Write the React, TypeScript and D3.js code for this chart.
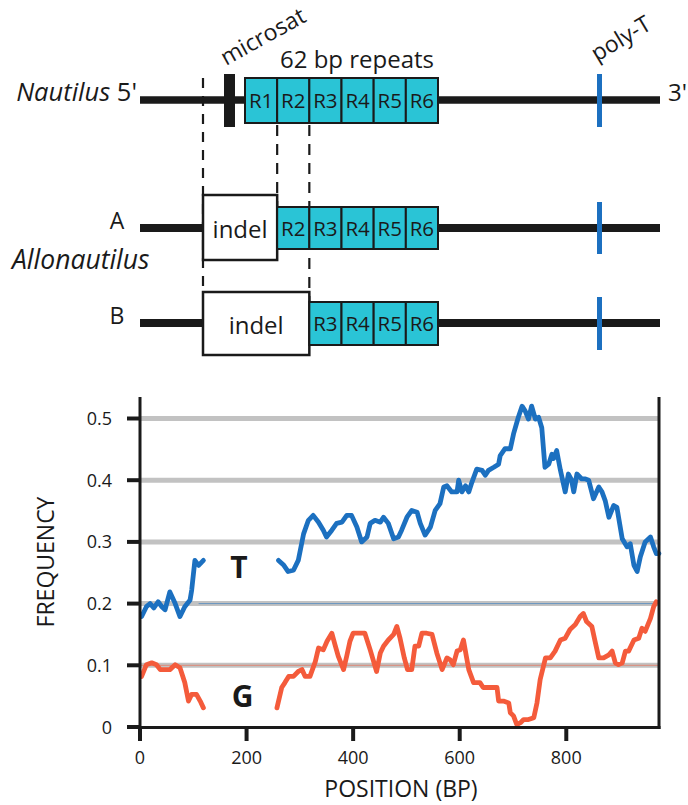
import React from 'react';
import * as d3 from 'd3';

// ---------- diagram data ----------
const nautilusRepeats = ['R1', 'R2', 'R3', 'R4', 'R5', 'R6'];
const alloARepeats = ['R2', 'R3', 'R4', 'R5', 'R6'];
const alloBRepeats = ['R3', 'R4', 'R5', 'R6'];

// ---------- chart data ----------
const xTicks = [0, 200, 400, 600, 800];
const yTicks = [0, 0.1, 0.2, 0.3, 0.4, 0.5];
const gridTicks = [0.1, 0.2, 0.3, 0.4, 0.5];

const tFreqStart: [number, number][] = [
  [3, 0.179], [12, 0.195], [19, 0.2], [26, 0.193], [34, 0.203], [41, 0.195], [47, 0.19],
  [56, 0.219], [66, 0.2], [75, 0.179], [84, 0.195], [94, 0.206], [97, 0.222], [103, 0.27],
  [110, 0.262], [119, 0.27],
];

const tFreqMain: [number, number][] = [
  [260, 0.27], [270, 0.262], [278, 0.252], [288, 0.254], [297, 0.27], [307, 0.313], [316, 0.335],
  [325, 0.343], [335, 0.332], [344, 0.319], [350, 0.308], [360, 0.319], [369, 0.33], [379, 0.332],
  [388, 0.343], [397, 0.343], [407, 0.324], [416, 0.3], [426, 0.308], [432, 0.33], [441, 0.335],
  [451, 0.332], [457, 0.34], [466, 0.33], [476, 0.305], [485, 0.308], [491, 0.319], [501, 0.34],
  [510, 0.351], [520, 0.348], [526, 0.33], [535, 0.311], [545, 0.324], [554, 0.351], [563, 0.362],
  [570, 0.389], [576, 0.391], [585, 0.381], [595, 0.381], [598, 0.4], [604, 0.381], [611, 0.391],
  [617, 0.381], [623, 0.397], [632, 0.418], [642, 0.416], [648, 0.408], [654, 0.416], [664, 0.421],
  [673, 0.426], [676, 0.44], [685, 0.451], [695, 0.451], [701, 0.475], [710, 0.502], [717, 0.52],
  [723, 0.512], [729, 0.499], [735, 0.52], [742, 0.499], [748, 0.502], [754, 0.485], [760, 0.421],
  [767, 0.426], [773, 0.442], [776, 0.435], [782, 0.448], [789, 0.416], [798, 0.381], [804, 0.41],
  [810, 0.4], [814, 0.381], [820, 0.41], [829, 0.402], [836, 0.402], [842, 0.4], [851, 0.37],
  [861, 0.389], [867, 0.381], [873, 0.367], [880, 0.34], [889, 0.359], [895, 0.356], [905, 0.305],
  [914, 0.292], [920, 0.297], [927, 0.262], [933, 0.252], [939, 0.276], [948, 0.3], [958, 0.308],
  [964, 0.292], [969, 0.281], [974, 0.281],
];

const gFreqStart: [number, number][] = [
  [3, 0.082], [12, 0.101], [22, 0.104], [31, 0.101], [38, 0.093], [47, 0.093], [56, 0.093],
  [66, 0.101], [75, 0.096], [84, 0.072], [91, 0.042], [97, 0.053], [106, 0.053], [113, 0.042],
  [119, 0.031],
];

const gFreqMain: [number, number][] = [
  [257, 0.031], [266, 0.064], [272, 0.072], [279, 0.082], [288, 0.082], [297, 0.09], [304, 0.093],
  [310, 0.082], [319, 0.082], [329, 0.106], [335, 0.128], [344, 0.125], [351, 0.139], [360, 0.152],
  [366, 0.133], [372, 0.115], [382, 0.093], [388, 0.115], [394, 0.139], [400, 0.152], [410, 0.152],
  [422, 0.152], [432, 0.125], [444, 0.09], [451, 0.12], [457, 0.131], [466, 0.141], [476, 0.15],
  [482, 0.163], [488, 0.144], [496, 0.112], [502, 0.093], [510, 0.093], [516, 0.131], [523, 0.131],
  [529, 0.152], [538, 0.152], [548, 0.15], [557, 0.12], [567, 0.093], [576, 0.112], [582, 0.109],
  [588, 0.101], [595, 0.123], [601, 0.125], [607, 0.141], [613, 0.112], [617, 0.093], [626, 0.072],
  [638, 0.072], [644, 0.064], [654, 0.064], [670, 0.064], [673, 0.042], [682, 0.042], [692, 0.039],
  [695, 0.023], [701, 0.018], [707, 0.004], [714, 0.007], [720, 0.012], [729, 0.012], [739, 0.015],
  [745, 0.039], [751, 0.077], [761, 0.112], [770, 0.112], [779, 0.123], [789, 0.141], [798, 0.144],
  [807, 0.158], [817, 0.166], [826, 0.179], [832, 0.184], [838, 0.171], [848, 0.163], [854, 0.139],
  [861, 0.112], [870, 0.112], [880, 0.117], [886, 0.123], [892, 0.104], [898, 0.101], [905, 0.104],
  [911, 0.123], [917, 0.123], [927, 0.141], [936, 0.144], [942, 0.16], [948, 0.155], [958, 0.176],
  [964, 0.195], [969, 0.203],
];

const FONT = "'Open Sans', 'Noto Sans', sans-serif";
const INK = '#1a1a1a';
const CYAN = '#2ac4d6';
const BLUE = '#1c70c0';
const RED = '#f45b3b';

export default function App() {
  // diagram scale: repeat index -> px
  const xRep = d3.scaleLinear().domain([0, 6]).range([245, 438]);
  const lineX0 = 140;
  const lineX1 = 660;
  const indelX0 = 203;
  const polyX = 599.5;

  // chart scales
  const x = d3.scaleLinear().domain([0, 974]).range([140, 659]);
  const y = d3.scaleLinear().domain([0, 0.5]).range([727, 418.5]);
  const line = d3
    .line<[number, number]>()
    .x((d) => x(d[0]))
    .y((d) => y(d[1]))
    .curve(d3.curveLinear);

  const repeatCells = (labels: string[], startIdx: number, yTop: number, h: number) =>
    labels.map((lab, i) => {
      const x0 = xRep(startIdx + i);
      const x1 = xRep(startIdx + i + 1);
      return (
        <g key={lab + yTop}>
          <rect x={x0} y={yTop} width={x1 - x0} height={h} fill={CYAN} stroke={INK} strokeWidth={2} />
          <text
            x={(x0 + x1) / 2}
            y={yTop + h / 2 + 7.5}
            textAnchor="middle"
            fontSize={20.5}
            fill={INK}
          >
            {lab}
          </text>
        </g>
      );
    });

  return (
    <svg
      width={688}
      height={805}
      style={{ position: 'absolute', left: 0, top: 0, background: '#fff' }}
      fontFamily={FONT}
    >
      {/* ================= DIAGRAM ================= */}
      {/* dashed alignment lines */}
      <line x1={indelX0} x2={indelX0} y1={78} y2={292} stroke={INK} strokeWidth={2.2} strokeDasharray="10 8" />
      <line x1={xRep(1)} x2={xRep(1)} y1={125} y2={207} stroke={INK} strokeWidth={2.2} strokeDasharray="11 8" />
      <line x1={xRep(2)} x2={xRep(2)} y1={125} y2={302} stroke={INK} strokeWidth={2.2} strokeDasharray="11 8" />

      {/* Nautilus row */}
      <line x1={lineX0} x2={lineX1} y1={100} y2={100} stroke={INK} strokeWidth={7.5} />
      <rect x={224} y={74} width={11} height={53} fill={INK} />
      {repeatCells(nautilusRepeats, 0, 78, 45)}
      <rect x={polyX - 2.5} y={74} width={5} height={53} fill={BLUE} />
      <text x={137} y={101} textAnchor="end" fontSize={25.5} fill={INK}>
        <tspan fontStyle="italic">Nautilus</tspan>
        <tspan> 5'</tspan>
      </text>
      <text x={668} y={101} fontSize={24} fill={INK}>3'</text>
      <text x={280} y={68} fontSize={24} fill={INK}>62 bp repeats</text>
      <text transform="translate(226,66) rotate(-29)" fontSize={23} fill={INK}>microsat</text>
      <text transform="translate(597,62) rotate(-31)" fontSize={23} fill={INK}>poly-T</text>

      {/* Allonautilus A */}
      <line x1={lineX0} x2={lineX1} y1={228} y2={228} stroke={INK} strokeWidth={8} />
      <rect x={indelX0} y={195} width={xRep(1) - indelX0} height={65} fill="#fff" stroke={INK} strokeWidth={2.5} />
      <text x={(indelX0 + xRep(1)) / 2} y={238} textAnchor="middle" fontSize={24} fill={INK}>indel</text>
      {repeatCells(alloARepeats, 1, 207, 42)}
      <rect x={polyX - 2.5} y={202} width={5} height={52} fill={BLUE} />
      <text x={117} y={229} textAnchor="middle" fontSize={23} fill={INK}>A</text>
      <text x={12} y={269} fontSize={26.5} fontStyle="italic" fill={INK}>Allonautilus</text>

      {/* Allonautilus B */}
      <line x1={lineX0} x2={lineX1} y1={323} y2={323} stroke={INK} strokeWidth={8} />
      <rect x={indelX0} y={292} width={xRep(2) - indelX0} height={63} fill="#fff" stroke={INK} strokeWidth={2.5} />
      <text x={(indelX0 + xRep(2)) / 2} y={334} textAnchor="middle" fontSize={24} fill={INK}>indel</text>
      {repeatCells(alloBRepeats, 2, 302, 43)}
      <rect x={polyX - 2.5} y={297} width={5} height={53} fill={BLUE} />
      <text x={117} y={324} textAnchor="middle" fontSize={23} fill={INK}>B</text>

      {/* ================= CHART ================= */}
      {gridTicks.map((t) => (
        <line key={'g' + t} x1={x(0) + 1} x2={x(974) - 1} y1={y(t)} y2={y(t)} stroke="#c2c2c2" strokeWidth={5} />
      ))}
      {/* faint traces on gridlines */}
      <line x1={x(0)} x2={x(974)} y1={y(0.1)} y2={y(0.1)} stroke={RED} strokeWidth={1} opacity={0.55} />
      <line x1={x(110)} x2={x(974)} y1={y(0.2)} y2={y(0.2)} stroke={BLUE} strokeWidth={1} opacity={0.55} />

      {/* series */}
      {[tFreqStart, tFreqMain].map((seg, i) => (
        <path key={'t' + i} d={line(seg) || ''} fill="none" stroke={BLUE} strokeWidth={4.8} strokeLinejoin="round" strokeLinecap="round" />
      ))}
      {[gFreqStart, gFreqMain].map((seg, i) => (
        <path key={'gg' + i} d={line(seg) || ''} fill="none" stroke={RED} strokeWidth={4.8} strokeLinejoin="round" strokeLinecap="round" />
      ))}

      {/* axes frame */}
      <line x1={x(0)} x2={x(0)} y1={397} y2={741} stroke={INK} strokeWidth={3} />
      <line x1={x(974)} x2={x(974)} y1={397} y2={729} stroke={INK} strokeWidth={3} />
      <line x1={x(0) - 1} x2={x(974) + 1.5} y1={y(0) + 0.5} y2={y(0) + 0.5} stroke={INK} strokeWidth={3} />

      {yTicks.map((t) => (
        <g key={'yt' + t}>
          <line x1={127} x2={x(0)} y1={y(t)} y2={y(t)} stroke={INK} strokeWidth={4} />
          <text x={112} y={y(t) + 6.5} textAnchor="end" fontSize={18} fill={INK}>
            {t === 0 ? '0' : d3.format('.1f')(t)}
          </text>
        </g>
      ))}
      {xTicks.map((t) => (
        <g key={'xt' + t}>
          <line x1={x(t)} x2={x(t)} y1={y(0)} y2={741} stroke={INK} strokeWidth={4} />
          <text x={x(t)} y={764} textAnchor="middle" fontSize={18} fill={INK}>{t}</text>
        </g>
      ))}

      <text x={239} y={578} textAnchor="middle" fontSize={30} fontWeight="bold" fill={INK}>T</text>
      <text x={242.5} y={707} textAnchor="middle" fontSize={30} fontWeight="bold" fill={INK}>G</text>

      <text transform="translate(54,562) rotate(-90)" textAnchor="middle" fontSize={23} fill={INK}>FREQUENCY</text>
      <text x={401} y={797} textAnchor="middle" fontSize={23} fill={INK}>POSITION (BP)</text>
    </svg>
  );
}
